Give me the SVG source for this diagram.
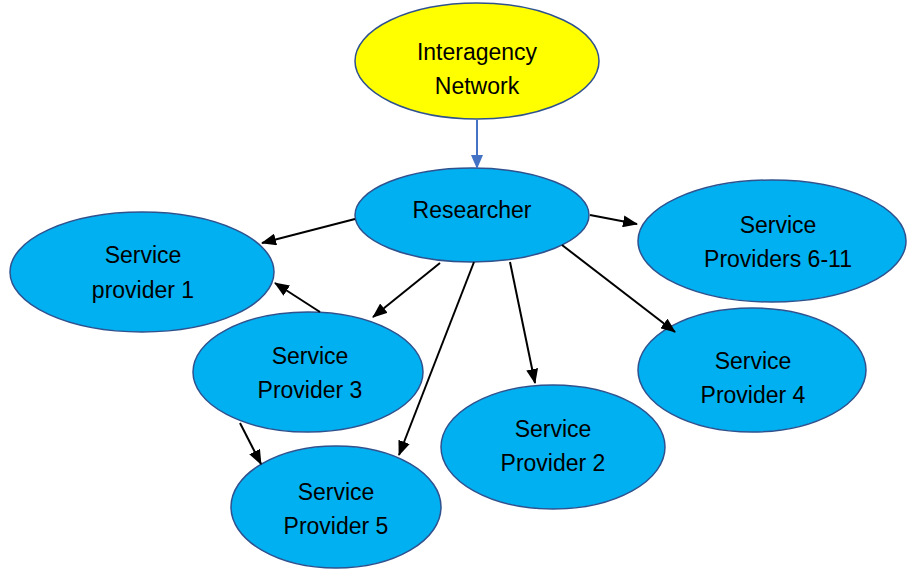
<svg xmlns="http://www.w3.org/2000/svg" width="907" height="570" viewBox="0 0 907 570">
<style>
.node{fill:#00B0F0;stroke:#2F528F;stroke-width:1.5}
.top{fill:#FFFF00;stroke:#2F528F;stroke-width:1.5}
text{font-family:"Liberation Sans",Arial,sans-serif;font-size:23px;fill:#000;text-anchor:middle}
.c{stroke:#000;stroke-width:2;fill:none;marker-end:url(#ah)}
.cb{stroke:#4472C4;stroke-width:2;fill:none;marker-end:url(#ahb)}
</style>
<defs>
<marker id="ah" markerUnits="userSpaceOnUse" markerWidth="15" markerHeight="12" refX="14" refY="6" orient="auto">
<path d="M0,0 L15,6 L0,12 z" fill="#000"/>
</marker>
<marker id="ahb" markerUnits="userSpaceOnUse" markerWidth="14" markerHeight="12" refX="13" refY="6" orient="auto">
<path d="M0,0 L14,6 L0,12 z" fill="#4472C4"/>
</marker>
</defs>
<rect width="907" height="570" fill="#fff"/>
<g id="interagency"><ellipse class="top" cx="477" cy="61" rx="122" ry="58"/><text x="477" y="60">Interagency</text><text x="477" y="94">Network</text></g>
<g id="researcher"><ellipse class="node" cx="472" cy="215" rx="117" ry="47"/><text x="472" y="218">Researcher</text></g>
<g id="sp1"><ellipse class="node" cx="142" cy="272" rx="132" ry="60"/><text x="143" y="263">Service</text><text x="143" y="298">provider 1</text></g>
<g id="sp611"><ellipse class="node" cx="772" cy="241" rx="134" ry="61"/><text x="778" y="233">Service</text><text x="778" y="267">Providers 6-11</text></g>
<g id="sp3"><ellipse class="node" cx="308" cy="372" rx="115" ry="60"/><text x="310" y="364">Service</text><text x="310" y="398">Provider 3</text></g>
<g id="sp4"><ellipse class="node" cx="752" cy="370" rx="114" ry="62"/><text x="753" y="369">Service</text><text x="753" y="403">Provider 4</text></g>
<g id="sp2"><ellipse class="node" cx="553" cy="447" rx="112" ry="62"/><text x="553" y="437">Service</text><text x="553" y="471">Provider 2</text></g>
<g id="sp5"><ellipse class="node" cx="336" cy="507" rx="105" ry="61"/><text x="336" y="500">Service</text><text x="336" y="534">Provider 5</text></g>
<g id="connectors">
<line class="cb" x1="477" y1="120" x2="477" y2="168"/>
<line class="c" x1="355" y1="219" x2="262" y2="243"/>
<line class="c" x1="590" y1="215" x2="637" y2="224"/>
<line class="c" x1="440" y1="263" x2="373" y2="317"/>
<line class="c" x1="474" y1="262" x2="399" y2="455"/>
<line class="c" x1="510" y1="262" x2="535" y2="383"/>
<line class="c" x1="562" y1="245" x2="675" y2="332"/>
<line class="c" x1="320" y1="312" x2="275" y2="283"/>
<line class="c" x1="240" y1="423" x2="261" y2="464"/>
</g>
</svg>
